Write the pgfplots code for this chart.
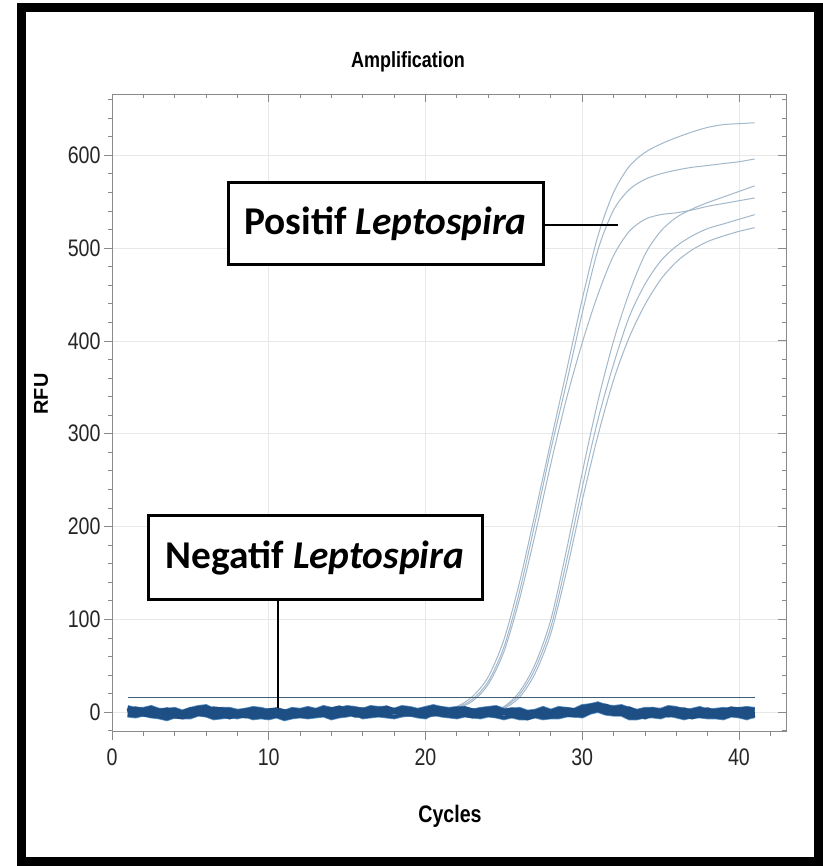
\documentclass[border=0pt]{standalone}
\usepackage{fontspec}
\setmainfont{Liberation Sans}
\newfontfamily\narrowfont[FakeStretch=0.82]{Liberation Sans}
\newfontfamily\boxfont{Carlito}
\usepackage{pgfplots}
\usepackage{pgfplotstable}
\pgfplotsset{compat=1.18}
\definecolor{posblue}{HTML}{A3B8CB}
\definecolor{negblue}{HTML}{1D4F85}
\definecolor{neglight}{HTML}{5B93C4}
\definecolor{thresh}{HTML}{3E5E78}
\definecolor{axgray}{HTML}{8A8A8A}
\definecolor{gridgray}{HTML}{E8E8E8}

\pgfplotstableread{
x L1 L2 L3 R1 R2 R3
20 0 0 0 0 0 0
21 1 1 0 0 0 0
22 6 5 4 0 0 0
23 17 14 12 0 0 0
24 38 33 30 1 0 0
25 78 70 65 6 5 4
26 140 130 122 22 19 16
27 215 205 192 52 47 42
28 292 283 268 100 92 85
29 368 355 338 175 163 152
30 445 430 398 258 242 228
31 513 498 450 335 315 298
32 560 541 492 400 375 358
33 588 563 518 452 426 404
34 603 574 531 493 461 439
35 612 580 536 518 486 466
36 619 584 538 533 502 485
37 625 587 541 542 513 498
38 630 589 545 549 521 507
39 633 591 548 555 526 513
40 634 593 551 561 531 518
41 635 596 554 567 536 522
}\postable

\pgfplotstableread{
x A B C D
1 5 0 -0.5 -3
1.5 3 3 0.5 -4
2 3 1 -1.5 -2
2.5 5 2 -2.5 -4
3 2 0 0.5 -5
3.5 2 2 -2.5 -7
4 3 0 -3.5 -4
4.5 0 -1 -4.5 -5
5 3 2 -0.5 -5
5.5 5 2 -0.5 -2
6 6 1 -1.5 -3
6.5 2 3 -0.5 -6
7 3 2 -1.5 -5
7.5 3 0 -4.5 -4
8 1 -2 -1.5 -5
8.5 2 1 -3.5 -3
9 4 0 -2.5 -6
9.5 3 -1 -0.5 -5
10 1 1 -3.5 -6
10.5 2 2 -2.5 -4
11 0 0 -3.5 -7
11.5 3 -1 -1.5 -5
12 2 0 -2.5 -4
12.5 4 2 -3.5 -5
13 2 -1 -1.5 -4
13.5 5 1 -0.5 -3
14 3 2 -2.5 -6
14.5 3 4 -0.5 -4
15 5 1 0.5 -3
15.5 4 2 -2.5 -1
16 2 2 -2.5 -5
16.5 5 0 -0.5 -4
17 4 1 -1.5 -3
17.5 4 4 -1.5 -4
18 2 1 1.5 -5
18.5 5 3 -0.5 -3
19 4 2 -1.5 -2
19.5 2 -1 -0.5 -4
20 4 2 -1.5 -5
20.5 6 2 -1.5 -1
21 4 3 -0.5 -3
21.5 3 1 -1.5 -4
22 4 2 0.5 -5
22.5 4 3 -1.5 -3
23 1 1 -3.5 -4
23.5 3 0 -0.5 -5
24 4 2 -1.5 -3
24.5 5 1 -2.5 -4
25 2 0 0.5 -6
25.5 2 2 -2.5 -4
26 3 1 -3.5 -6
26.5 0 -2 -5.5 -6
27 1 -1 -2.5 -4
27.5 4 1 -2.5 -6
28 1 -2 -3.5 -5
28.5 4 1 -0.5 -5
29 3 2 -1.5 -3
29.5 2 1 -2.5 -3
30 6 3 -0.5 -4
30.5 7 6 3.5 0
31 9 6 3.5 2
31.5 6 6 4.5 -1
32 5 2 -0.5 -2
32.5 6 2 -0.5 -2
33 3 3 -2.5 -6
33.5 1 -1 -1.5 -6
34 3 0 -4.5 -4
34.5 3 2 -1.5 -4
35 2 -1 -0.5 -5
35.5 5 1 -2.5 -2
36 4 2 -1.5 -4
36.5 1 2 -1.5 -6
37 2 -1 -4.5 -4
37.5 4 1 -2.5 -4
38 1 2 -1.5 -5
38.5 2 -1 -0.5 -5
39 3 0 -3.5 -6
39.5 2 3 -1.5 -3
40 3 2 -0.5 -4
40.5 4 0 -2.5 -6
41 3 1 -3.5 -3
}\negtable

\begin{document}
\begin{tikzpicture}[x=1bp,y=1bp]
\useasboundingbox (0,0) rectangle (823,866);
\fill[white] (0,0) rectangle (823,866);
\begin{axis}[
  at={(112bp,134.3bp)}, anchor=south west,
  scale only axis, width=674bp, height=637.7bp,
  xmin=0, xmax=43, ymin=-21, ymax=666,
  xtick={0,10,...,40}, ytick={0,100,...,600},
  minor xtick={2,4,...,42}, minor ytick={-20,20,40,...,660},
  tick pos=left, tick align=outside,
  major tick length=8bp, minor tick length=4bp,
  axis line style={axgray, line width=0.8bp},
  tick style={axgray, line width=0.8bp},
  grid=major, major grid style={gridgray, line width=0.8bp},
  /pgf/number format/assume math mode=true,
  tick label style={font=\narrowfont\fontsize{24}{24}\selectfont, text=black!85},
  xticklabel style={yshift=-6bp},
]
\addplot[posblue, line width=1bp, smooth] table[x=x, y=L1] {\postable};
\addplot[posblue, line width=1bp, smooth] table[x=x, y=L2] {\postable};
\addplot[posblue, line width=1bp, smooth] table[x=x, y=L3] {\postable};
\addplot[posblue, line width=1bp, smooth] table[x=x, y=R1] {\postable};
\addplot[posblue, line width=1bp, smooth] table[x=x, y=R2] {\postable};
\addplot[posblue, line width=1bp, smooth] table[x=x, y=R3] {\postable};
\addplot[neglight, line width=5bp] table[x=x, y=A] {\negtable};
\addplot[neglight, line width=5bp] table[x=x, y=D] {\negtable};
\addplot[negblue, line width=6bp] table[x=x, y=B] {\negtable};
\addplot[negblue, line width=6bp] table[x=x, y=C] {\negtable};
\addplot[negblue, line width=3.5bp] table[x=x, y=A] {\negtable};
\addplot[negblue, line width=3.5bp] table[x=x, y=D] {\negtable};
\addplot[thresh, line width=1.5bp] coordinates {(1,16) (41,16)};
\end{axis}
\begin{axis}[
  at={(112bp,134.3bp)}, anchor=south west,
  scale only axis, width=674bp, height=637.7bp,
  xmin=0, xmax=43, ymin=-21, ymax=666,
  xtick={0,10,...,40}, ytick={0,100,...,600},
  minor xtick={2,4,...,42}, minor ytick={-20,20,40,...,660},
  tick pos=right, tick align=inside,
  major tick length=8bp, minor tick length=4bp,
  axis line style={axgray, line width=0.8bp},
  tick style={axgray, line width=0.8bp},
  xticklabels={}, yticklabels={},
]
\addplot[draw=none] coordinates {(0,0)};
\end{axis}
% titles
\node[font=\narrowfont\bfseries\fontsize{22}{22}\selectfont, inner sep=0] at (408,804) {Amplification};
\node[font=\narrowfont\bfseries\fontsize{24}{24}\selectfont, inner sep=0] at (450,50) {Cycles};
\node[font=\bfseries\fontsize{20}{20}\selectfont, rotate=90, inner sep=0] at (41,472) {RFU};
% annotation boxes
\draw[line width=1.5bp] (543,641) -- (618,641);
\draw[line width=3bp, fill=white] (228,683) rectangle (543,601);
\node[font=\boxfont\bfseries\fontsize{39.5}{41}\selectfont, inner sep=0] at (385.5,642) {Positif \textit{Leptospira}};
\draw[line width=2bp] (278.3,266) -- (278.3,158);
\draw[line width=3bp, fill=white] (148,350) rectangle (482,266);
\node[font=\boxfont\bfseries\fontsize{39.5}{41}\selectfont, inner sep=0] at (315,308) {Negatif \textit{Leptospira}};
% outer frame
\draw[line width=9bp] (21,4) rectangle (818,858.5);
\end{tikzpicture}
\end{document}
